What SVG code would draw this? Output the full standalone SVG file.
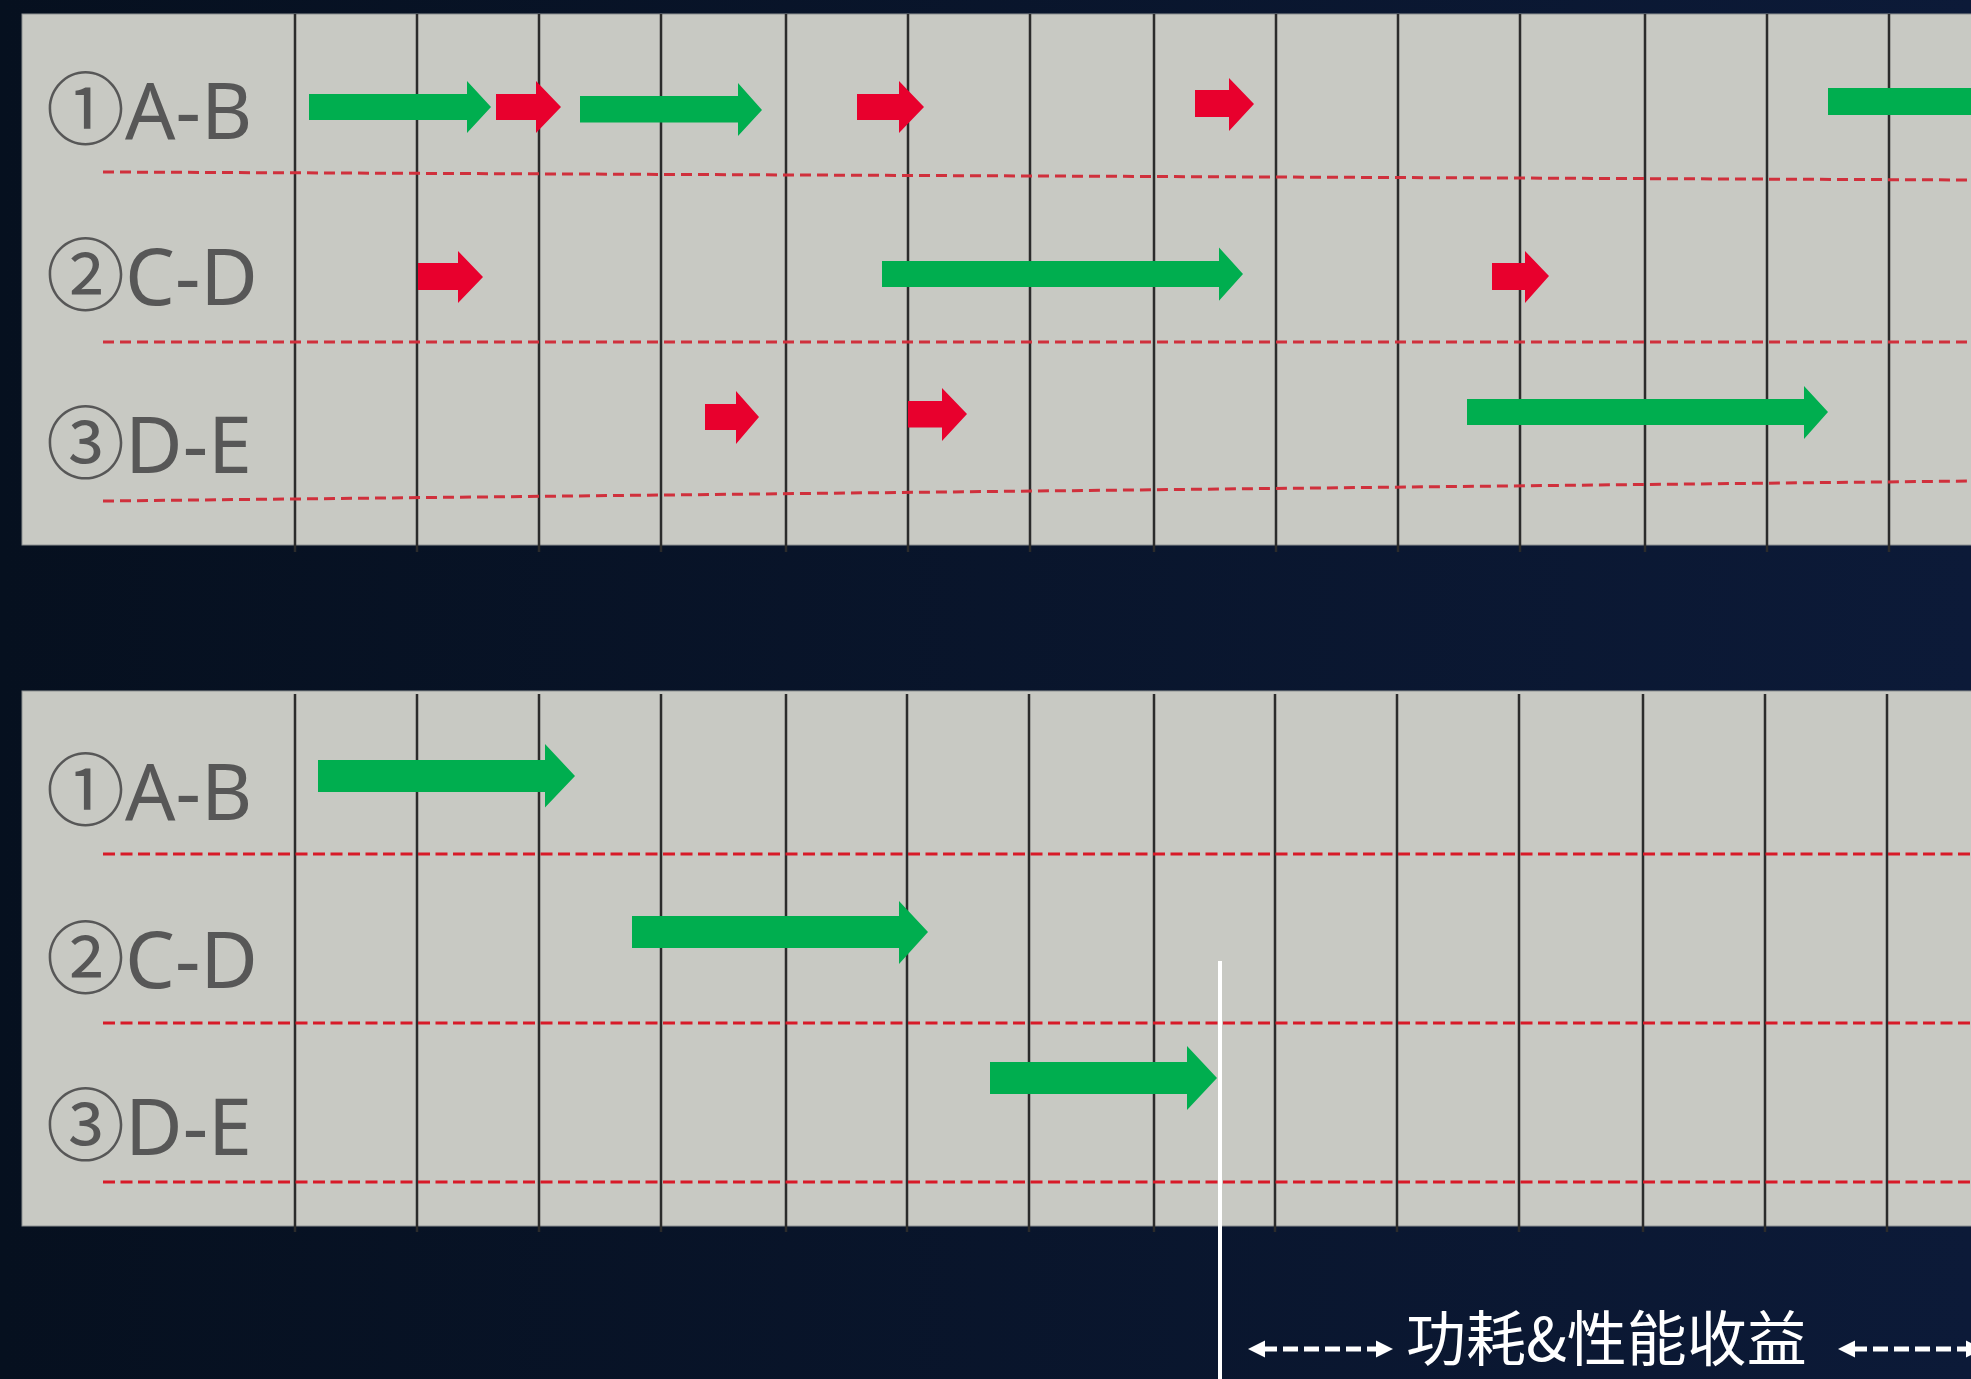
<svg xmlns="http://www.w3.org/2000/svg" width="1971" height="1379" viewBox="0 0 1971 1379">
<defs>
<linearGradient id="bg" x1="0" y1="0" x2="1" y2="0">
<stop offset="0" stop-color="#06101f"/>
<stop offset="1" stop-color="#0c1a38"/>
</linearGradient>
<style>
.panel{fill:#c8c9c3;stroke:#8e9192;stroke-width:1}
.vl{stroke:#2b2b2b;stroke-width:2.5}
.dash{stroke:#d0303c;stroke-width:3;stroke-dasharray:11 6;fill:none}
.dash2{stroke:#d81a28;stroke-width:2.8;stroke-dasharray:12 5.5;fill:none}
.lbl{font-family:"Noto Sans","Noto Sans CJK SC",sans-serif;font-size:79px;fill:#575757}
.g{fill:#00ae4f}
.r{fill:#e8002d}
.wl{stroke:#ffffff;stroke-width:4}
.wd{stroke:#ffffff;stroke-width:5;stroke-dasharray:15 6;fill:none}
.wh{fill:#ffffff}
.cap{font-family:"Noto Sans CJK SC","Noto Sans",sans-serif;font-size:60px;fill:#ffffff}
</style>
</defs>
<rect id="background" x="0" y="0" width="1971" height="1379" fill="url(#bg)"/>

<g id="panel-top">
<rect class="panel" x="22" y="14" width="1960" height="531"/>
<g class="vl">
<line x1="295" y1="14" x2="295" y2="552"/><line x1="417" y1="14" x2="417" y2="552"/>
<line x1="539" y1="14" x2="539" y2="552"/><line x1="661" y1="14" x2="661" y2="552"/>
<line x1="786" y1="14" x2="786" y2="552"/><line x1="908" y1="14" x2="908" y2="552"/>
<line x1="1030" y1="14" x2="1030" y2="552"/><line x1="1154" y1="14" x2="1154" y2="552"/>
<line x1="1276" y1="14" x2="1276" y2="552"/><line x1="1398" y1="14" x2="1398" y2="552"/>
<line x1="1520" y1="14" x2="1520" y2="552"/><line x1="1645" y1="14" x2="1645" y2="552"/>
<line x1="1767" y1="14" x2="1767" y2="552"/><line x1="1889" y1="14" x2="1889" y2="552"/>
</g>
<line class="dash" x1="103" y1="172" x2="1971" y2="180"/>
<line class="dash" x1="103" y1="342" x2="1971" y2="342"/>
<line class="dash" x1="103" y1="501" x2="1971" y2="481"/>
<text class="lbl" x="46" y="139">①A-B</text>
<text class="lbl" x="46" y="305">②C-D</text>
<text class="lbl" x="46" y="473">③D-E</text>
</g>

<g id="panel-bottom">
<rect class="panel" x="22" y="691" width="1960" height="535"/>
<g class="vl">
<line x1="295" y1="694" x2="295" y2="1232"/><line x1="417" y1="694" x2="417" y2="1232"/>
<line x1="539" y1="694" x2="539" y2="1232"/><line x1="661" y1="694" x2="661" y2="1232"/>
<line x1="786" y1="694" x2="786" y2="1232"/><line x1="907" y1="694" x2="907" y2="1232"/>
<line x1="1029" y1="694" x2="1029" y2="1232"/><line x1="1154" y1="694" x2="1154" y2="1232"/>
<line x1="1275" y1="694" x2="1275" y2="1232"/><line x1="1397" y1="694" x2="1397" y2="1232"/>
<line x1="1519" y1="694" x2="1519" y2="1232"/><line x1="1643" y1="694" x2="1643" y2="1232"/>
<line x1="1765" y1="694" x2="1765" y2="1232"/><line x1="1887" y1="694" x2="1887" y2="1232"/>
</g>
<line class="dash2" x1="103" y1="854" x2="1971" y2="854"/>
<line class="dash2" x1="103" y1="1023" x2="1971" y2="1023"/>
<line class="dash2" x1="103" y1="1182" x2="1971" y2="1182"/>
<text class="lbl" x="46" y="820">①A-B</text>
<text class="lbl" x="46" y="988">②C-D</text>
<text class="lbl" x="46" y="1155">③D-E</text>
</g>

<g id="connectors">
<path class="g" d="M309,94 H467 V81 L491,107 L467,133 V120 H309 Z"/>
<path class="r" d="M496,94 H536 V81 L561,107 L536,133 V120 H496 Z"/>
<path class="g" d="M580,96 H738 V83 L762,110 L738,136 V122.5 H580 Z"/>
<path class="r" d="M857,94 H899 V81 L924,107 L899,133 V120 H857 Z"/>
<path class="r" d="M1195,90 H1229 V78 L1254,104 L1229,131 V117 H1195 Z"/>
<path class="g" d="M1828,88 H1980 V115 H1828 Z"/>
<path class="r" d="M418,263 H458 V251 L483,277 L458,303 V290 H418 Z"/>
<path class="g" d="M882,261 H1219 V247.5 L1243,274 L1219,300.7 V287 H882 Z"/>
<path class="r" d="M1492,263 H1525 V251 L1549,276 L1525,303 V290 H1492 Z"/>
<path class="r" d="M705,404 H736 V391 L759,417 L736,444 V430 H705 Z"/>
<path class="r" d="M908,401 H942 V388 L967,414 L942,441 V427.5 H908 Z"/>
<path class="g" d="M1467,399 H1804 V386 L1828,412 L1804,439 V425 H1467 Z"/>
<path class="g" d="M318,760 H545 V744 L575,776 L545,807.5 V792 H318 Z"/>
<path class="g" d="M632,916 H899 V901 L928,932 L899,964 V948 H632 Z"/>
<path class="g" d="M990,1062 H1187 V1046 L1217,1078 L1187,1110 V1094 H990 Z"/>
</g>

<g id="gain-marker">
<line class="wl" x1="1220" y1="961" x2="1220" y2="1379"/>
<line class="wd" x1="1262" y1="1349" x2="1379" y2="1349"/>
<path class="wh" d="M1248,1349 L1265,1340.5 L1265,1357.5 Z"/>
<path class="wh" d="M1393,1349 L1376,1340.5 L1376,1357.5 Z"/>
<text class="cap" x="1406" y="1361">功耗&amp;性能收益</text>
<line class="wd" x1="1852" y1="1349" x2="1969" y2="1349"/>
<path class="wh" d="M1838,1349 L1855,1340.5 L1855,1357.5 Z"/>
<path class="wh" d="M1983,1349 L1966,1340.5 L1966,1357.5 Z"/>
</g>
</svg>
